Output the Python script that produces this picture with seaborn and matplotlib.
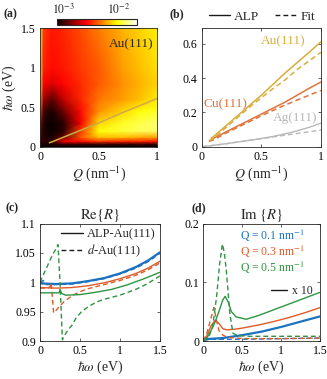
import numpy as np
import matplotlib
matplotlib.use("Agg")
import matplotlib.pyplot as plt
import seaborn as sns
from matplotlib.lines import Line2D

# ---------------- data ----------------
# (a) loss map: colour level (0 = black ... 1 = white on the colour bar)
heat_q = [0, 0.03, 0.1, 0.2, 0.35, 0.5, 0.7, 0.85, 1.0]
heat_w = [0, 0.03, 0.07, 0.12, 0.2, 0.3, 0.45, 0.6, 0.8, 1.0, 1.5]
heat_level = [
    [0.00, 0.00, 0.00, 0.00, 0.00, 0.00, 0.00, 0.00, 0.00],
    [0.05, 0.02, 0.02, 0.05, 0.05, 0.05, 0.05, 0.05, 0.05],
    [0.10, 0.05, 0.05, 0.35, 0.38, 0.45, 0.42, 0.42, 0.40],
    [0.10, 0.04, 0.02, 0.15, 0.50, 0.65, 0.65, 0.62, 0.60],
    [0.15, 0.03, 0.00, 0.05, 0.45, 0.75, 0.80, 0.83, 0.85],
    [0.25, 0.03, 0.00, 0.05, 0.35, 0.68, 0.78, 0.82, 0.85],
    [0.45, 0.08, 0.02, 0.15, 0.38, 0.58, 0.68, 0.75, 0.78],
    [0.60, 0.22, 0.12, 0.28, 0.42, 0.54, 0.60, 0.65, 0.72],
    [0.68, 0.36, 0.32, 0.37, 0.43, 0.50, 0.58, 0.63, 0.68],
    [0.70, 0.41, 0.38, 0.40, 0.45, 0.50, 0.60, 0.65, 0.70],
    [0.72, 0.45, 0.40, 0.42, 0.48, 0.55, 0.63, 0.68, 0.72],
]
cbar_log_min, cbar_log_max = -3.12, -1.66
cbar_ticks = [-3, -2]
cbar_ticklabels = ["$10^{-3}$", "$10^{-2}$"]

# (b) dispersion
q_au = [0.08, 0.1, 0.2, 0.3, 0.4, 0.5, 0.6, 0.7, 0.8, 0.9, 1.0]
au_alp = [0.05, 0.06, 0.12, 0.18, 0.24, 0.30, 0.365, 0.43, 0.49, 0.55, 0.612]
q_au_fit = [0.06, 0.1, 0.2, 0.3, 0.4, 0.5, 0.6, 0.7, 0.8, 0.9, 1.0]
au_fit = [0.035, 0.048, 0.11, 0.17, 0.23, 0.285, 0.34, 0.39, 0.45, 0.50, 0.55]
q_cu = [0.08, 0.1, 0.2, 0.3, 0.4, 0.5, 0.6, 0.7, 0.8, 0.9, 1.0]
cu_alp = [0.045, 0.05, 0.085, 0.12, 0.155, 0.19, 0.225, 0.26, 0.30, 0.34, 0.377]
q_cu_fit = [0.06, 0.1, 0.2, 0.3, 0.4, 0.5, 0.6, 0.7, 0.8, 0.9, 1.0]
cu_fit = [0.03, 0.04, 0.078, 0.112, 0.146, 0.18, 0.212, 0.243, 0.272, 0.30, 0.328]
q_ag = [0.0, 0.1, 0.2, 0.3, 0.4, 0.5, 0.6, 0.7, 0.8, 0.9, 1.0]
ag_alp = [0.0, 0.008, 0.017, 0.027, 0.037, 0.048, 0.06, 0.075, 0.092, 0.113, 0.137]
ag_fit = [0.0, 0.008, 0.017, 0.027, 0.037, 0.047, 0.057, 0.067, 0.077, 0.087, 0.097]

# (c) Re{R}
c_w_blue = [0, 0.2, 0.4, 0.6, 0.8, 1.0, 1.2, 1.35, 1.5]
c_blue = [0.998, 0.997, 0.998, 1.002, 1.007, 1.015, 1.026, 1.037, 1.051]
c_w_blue_d = [0, 0.04, 0.08, 0.2, 0.4, 0.6, 0.8, 1.0, 1.2, 1.35, 1.5]
c_blue_d = [1.0, 1.003, 0.996, 0.996, 0.997, 1.001, 1.006, 1.014, 1.024, 1.035, 1.049]
c_w_orange = [0, 0.2, 0.4, 0.6, 0.8, 1.0, 1.2, 1.35, 1.5]
c_orange = [0.991, 0.990, 0.991, 0.994, 0.999, 1.006, 1.015, 1.024, 1.036]
c_w_orange_d = [0, 0.1, 0.13, 0.14, 0.17, 0.2, 0.25, 0.3, 0.4, 0.5, 0.6, 0.8, 1.0, 1.2, 1.35, 1.5]
c_orange_d = [0.99, 0.99, 0.993, 0.999, 0.948, 0.952, 0.96, 0.967, 0.977, 0.984, 0.989,
              0.996, 1.003, 1.012, 1.021, 1.033]
c_w_green = [0, 0.2, 0.24, 0.25, 0.27, 0.32, 0.5, 0.7, 0.9, 1.1, 1.3, 1.5]
c_green = [0.982, 0.982, 0.982, 0.988, 0.981, 0.978, 0.979, 0.983, 0.988, 0.996, 1.006, 1.017]
c_w_green_d = [0, 0.1, 0.15, 0.2, 0.225, 0.25, 0.28, 0.3, 0.35, 0.4, 0.45, 0.52, 0.6,
               0.7, 0.8, 1.0, 1.2, 1.35, 1.5]
c_green_d = [1.0, 1.03, 1.045, 1.057, 1.064, 1.0, 0.902, 0.908, 0.919, 0.927, 0.939, 0.95,
             0.958, 0.966, 0.971, 0.978, 0.988, 0.998, 1.011]

# (d) Im{R}
d_w_blue = [0, 0.25, 0.5, 0.75, 1.0, 1.25, 1.5]
d_blue = [0.003, 0.005, 0.010, 0.016, 0.024, 0.033, 0.042]
d_w_blue_d = [0, 0.1, 0.5, 1.0, 1.5]
d_blue_d = [0.001, 0.003, 0.003, 0.004, 0.005]
d_w_orange = [0, 0.05, 0.1, 0.15, 0.2, 0.25, 0.3, 0.4, 0.5, 0.7, 0.9, 1.1, 1.3, 1.5]
d_orange = [0, 0.01, 0.026, 0.035, 0.03, 0.021, 0.019, 0.02, 0.022, 0.027, 0.033, 0.04,
            0.048, 0.057]
d_w_orange_d = [0, 0.05, 0.1, 0.135, 0.17, 0.2, 0.25, 0.3, 0.4, 0.6, 1.0, 1.5]
d_orange_d = [0, 0.015, 0.04, 0.057, 0.035, 0.018, 0.01, 0.007, 0.005, 0.004, 0.004, 0.005]
d_w_green = [0, 0.05, 0.1, 0.15, 0.2, 0.25, 0.28, 0.32, 0.36, 0.42, 0.55, 0.7, 0.9, 1.1,
             1.3, 1.5]
d_green = [0, 0.006, 0.018, 0.032, 0.05, 0.07, 0.076, 0.066, 0.05, 0.041, 0.037, 0.043,
           0.053, 0.063, 0.073, 0.083]
d_w_green_d = [0, 0.08, 0.12, 0.17, 0.21, 0.245, 0.27, 0.295, 0.34, 0.38, 0.45, 0.6, 1.0, 1.5]
d_green_d = [0, 0.01, 0.025, 0.075, 0.132, 0.165, 0.15, 0.12, 0.047, 0.013, 0.009, 0.008,
             0.008, 0.008]

q_labels = ["Q = 0.1 nm$^{-1}$", "Q = 0.3 nm$^{-1}$", "Q = 0.5 nm$^{-1}$"]

# ---------------- style ----------------
sns.set_theme(style="ticks")
plt.rcParams["font.family"] = ["Liberation Serif", "DejaVu Serif"]
plt.rcParams["mathtext.fontset"] = "stix"
plt.rcParams["axes.linewidth"] = 0.6
plt.rcParams["axes.edgecolor"] = "#262626"
plt.rcParams["xtick.direction"] = "in"
plt.rcParams["ytick.direction"] = "in"
plt.rcParams["xtick.major.size"] = 2.5
plt.rcParams["ytick.major.size"] = 2.5
plt.rcParams["xtick.major.width"] = 0.5
plt.rcParams["ytick.major.width"] = 0.5
plt.rcParams["xtick.labelsize"] = 8.5
plt.rcParams["ytick.labelsize"] = 8.5
plt.rcParams["xtick.major.pad"] = 3
plt.rcParams["ytick.major.pad"] = 3

AU, CU, AG = "#D9AE38", "#E0733C", "#B8B8B8"
BLUE, ORANGE, GREEN = "#1C72C2", "#E05A28", "#2F9442"
DASH = (0, (3.5, 2.2))

W, H = 327, 379
fig = plt.figure(figsize=(W / 100, H / 100), dpi=100)


def box(l, t, r, b):
    return [l / W, 1 - b / H, (r - l) / W, (b - t) / H]


ax_a = fig.add_axes(box(40, 28.3, 157.3, 146.7))
ax_b = fig.add_axes(box(201.7, 28.3, 321.0, 146.7))
ax_c = fig.add_axes(box(40, 223.5, 160, 341))
ax_d = fig.add_axes(box(203.3, 223.5, 320.3, 341))
cax = fig.add_axes(box(57.3, 19.3, 137.3, 25))

for ax in (ax_a, ax_b, ax_c, ax_d):
    ax.tick_params(top=True, right=True, colors="#262626", labelcolor="black")


def line(ax, x, y, color, lw=1.0, ls="-"):
    sns.lineplot(x=x, y=y, ax=ax, color=color, lw=lw, linestyle=ls,
                 estimator=None, sort=False, legend=False)

# ---- (a)
QQ, WW = np.meshgrid(heat_q, heat_w)
levels = np.array(heat_level)
logvals = cbar_log_min + levels * (cbar_log_max - cbar_log_min)
mesh = ax_a.pcolormesh(QQ, WW, logvals, cmap="hot", shading="gouraud",
                       vmin=cbar_log_min, vmax=cbar_log_max, rasterized=True)
line(ax_a, q_au, au_alp, "#CFAA45", lw=1.1)
ax_a.set_xlim(0, 1)
ax_a.set_ylim(0, 1.5)
ax_a.set_xticks([0, 0.5, 1])
ax_a.set_xticklabels(["0", "0.5", "1"])
ax_a.set_yticks([0, 0.5, 1, 1.5])
ax_a.set_yticklabels(["0", "0.5", "1", "1.5"])
ax_a.tick_params(colors="#444444", labelcolor="black")
ax_a.text(0.97, 1.3, "Au(111)", ha="right", va="center", fontsize=9.5)
ax_a.set_xlabel("$Q$ (nm$^{-1}$)", fontsize=10, labelpad=1)
ax_a.set_ylabel(r"$\hbar\omega$ (eV)", fontsize=10, labelpad=2)

cb = fig.colorbar(mesh, cax=cax, orientation="horizontal")
cb.set_ticks(cbar_ticks)
cb.set_ticklabels(cbar_ticklabels)
cax.xaxis.set_ticks_position("top")
cax.tick_params(length=0, labelsize=8.5, pad=1.5)
cb.outline.set_linewidth(0.8)

# ---- (b)
line(ax_b, q_ag, ag_alp, AG)
line(ax_b, q_ag, ag_fit, AG, ls=DASH)
line(ax_b, q_cu, cu_alp, CU, lw=1.1)
line(ax_b, q_cu_fit, cu_fit, CU, lw=1.1, ls=DASH)
line(ax_b, q_au, au_alp, AU, lw=1.1)
line(ax_b, q_au_fit, au_fit, AU, lw=1.1, ls=DASH)
ax_b.set_xlim(0, 1)
ax_b.set_ylim(0, 0.69)
ax_b.set_xticks([0, 0.5, 1])
ax_b.set_xticklabels(["0", "0.5", "1"])
ax_b.set_yticks([0, 0.2, 0.4, 0.6])
ax_b.set_yticklabels(["0", "0.2", "0.4", "0.6"])
ax_b.text(0.68, 0.615, "Au(111)", color=AU, ha="center", va="center", fontsize=9.5)
ax_b.text(0.2, 0.245, "Cu(111)", color=CU, ha="center", va="center", fontsize=9.5)
ax_b.text(0.78, 0.17, "Ag(111)", color=AG, ha="center", va="center", fontsize=9.5)
ax_b.set_xlabel("$Q$ (nm$^{-1}$)", fontsize=10, labelpad=1)
fig.legend(handles=[Line2D([], [], color="k", lw=1), Line2D([], [], color="k", lw=1, ls=DASH)],
           labels=["ALP", "Fit"], ncol=2, frameon=False, fontsize=9.5,
           loc="center", bbox_to_anchor=(262 / W, 1 - 17 / H),
           handlelength=1.6, handletextpad=0.3, columnspacing=1.2, borderaxespad=0, borderpad=0)

# ---- (c)
line(ax_c, c_w_blue, c_blue, BLUE, lw=1.6)
line(ax_c, c_w_blue_d, c_blue_d, BLUE, lw=1.0, ls=DASH)
line(ax_c, c_w_orange, c_orange, ORANGE, lw=1.0)
line(ax_c, c_w_orange_d, c_orange_d, ORANGE, lw=1.0, ls=DASH)
line(ax_c, c_w_green, c_green, GREEN, lw=1.0)
line(ax_c, c_w_green_d, c_green_d, GREEN, lw=1.0, ls=DASH)
ax_c.set_xlim(0, 1.5)
ax_c.set_ylim(0.9, 1.1)
ax_c.set_xticks([0, 0.5, 1, 1.5])
ax_c.set_xticklabels(["0", "0.5", "1", "1.5"])
ax_c.set_yticks([0.9, 0.95, 1, 1.05, 1.1])
ax_c.set_yticklabels(["0.9", "0.95", "1", "1.05", "1.1"])
ax_c.set_title(r"$\mathrm{Re}\{R\}$", fontsize=10.5, pad=3)
ax_c.set_xlabel(r"$\hbar\omega$ (eV)", fontsize=10, labelpad=1)
ax_c.legend(handles=[Line2D([], [], color="k", lw=1), Line2D([], [], color="k", lw=1, ls=DASH)],
            labels=["ALP-Au(111)", "$d$-Au(111)"], loc="upper right", frameon=False,
            fontsize=9, handlelength=1.7, handletextpad=0.35, labelspacing=0.2,
            borderaxespad=0.15, borderpad=0.2)

# ---- (d)
line(ax_d, d_w_blue, d_blue, BLUE, lw=1.6)
line(ax_d, d_w_blue_d, d_blue_d, BLUE, lw=1.0, ls=DASH)
line(ax_d, d_w_orange, d_orange, ORANGE, lw=1.0)
line(ax_d, d_w_orange_d, d_orange_d, ORANGE, lw=1.0, ls=DASH)
line(ax_d, d_w_green, d_green, GREEN, lw=1.0)
line(ax_d, d_w_green_d, d_green_d, GREEN, lw=1.0, ls=DASH)
ax_d.set_xlim(0, 1.5)
ax_d.set_ylim(0, 0.2)
ax_d.set_xticks([0, 0.5, 1, 1.5])
ax_d.set_xticklabels(["0", "0.5", "1", "1.5"])
ax_d.set_yticks([0, 0.1, 0.2])
ax_d.set_yticklabels(["0", "0.1", "0.2"])
ax_d.set_title(r"$\mathrm{Im}\ \{R\}$", fontsize=10.5, pad=3)
ax_d.set_xlabel(r"$\hbar\omega$ (eV)", fontsize=10, labelpad=1)
for lab, col, yy in zip(q_labels, (BLUE, ORANGE, GREEN), (0.179, 0.152, 0.125)):
    ax_d.text(0.47, yy, lab, color=col, fontsize=8.5, ha="left", va="center")
ax_d.legend(handles=[Line2D([], [], color="k", lw=1)], labels=["x 10"], frameon=False,
            fontsize=8.5, loc="center left", bbox_to_anchor=(0.87, 0.085),
            bbox_transform=ax_d.transData, handlelength=1.3, handletextpad=0.5,
            borderaxespad=0, borderpad=0)

# panel labels
for lab, x, y in (("(a)", 4, 14), ("(b)", 170, 14), ("(c)", 5, 208), ("(d)", 192, 208)):
    fig.text(x / W, 1 - y / H, lab, fontsize=8.5, fontweight="bold", ha="left", va="center")

fig.savefig("out.png", dpi=100)
